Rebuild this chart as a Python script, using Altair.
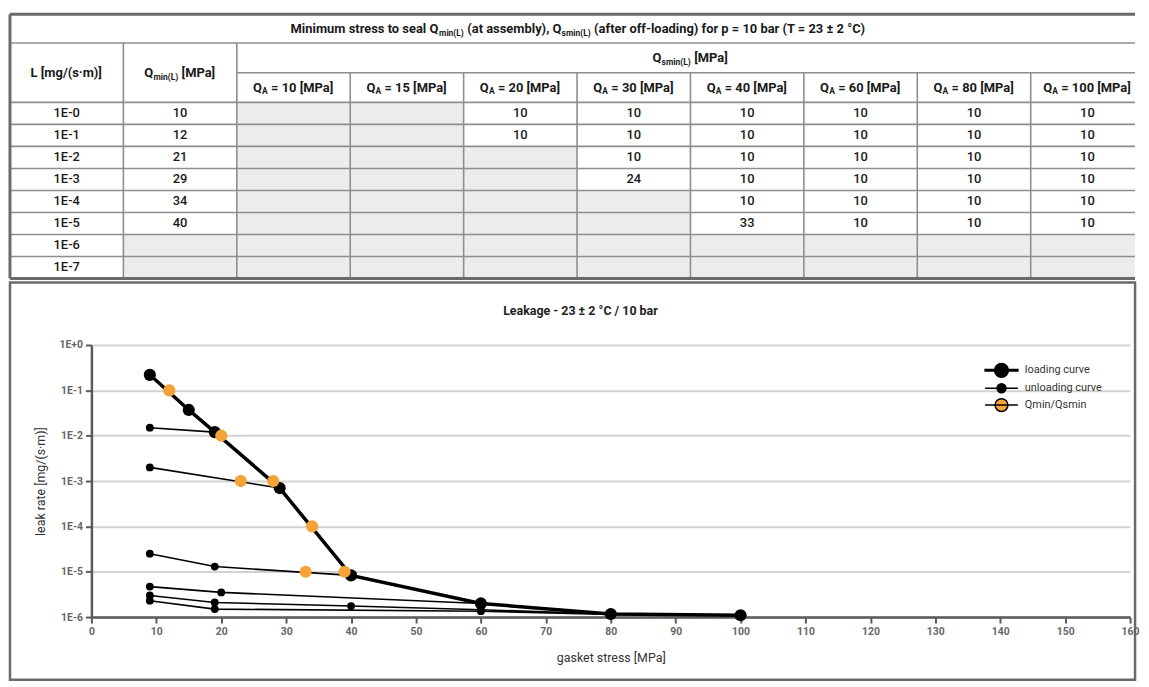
import altair as alt
import pandas as pd

# ---------------- table values ----------------
leak_rates = ["1E-0", "1E-1", "1E-2", "1E-3", "1E-4", "1E-5", "1E-6", "1E-7"]
qmin_values = [10, 12, 21, 29, 34, 40, None, None]
qa_levels = [10, 15, 20, 30, 40, 60, 80, 100]
qsmin_1e0 = [None, None, 10, 10, 10, 10, 10, 10]
qsmin_1e1 = [None, None, 10, 10, 10, 10, 10, 10]
qsmin_1e2 = [None, None, None, 10, 10, 10, 10, 10]
qsmin_1e3 = [None, None, None, 24, 10, 10, 10, 10]
qsmin_1e4 = [None, None, None, None, 10, 10, 10, 10]
qsmin_1e5 = [None, None, None, None, 33, 10, 10, 10]
qsmin_1e6 = [None, None, None, None, None, None, None, None]
qsmin_1e7 = [None, None, None, None, None, None, None, None]
qsmin_rows = [qsmin_1e0, qsmin_1e1, qsmin_1e2, qsmin_1e3, qsmin_1e4, qsmin_1e5, qsmin_1e6, qsmin_1e7]

table_title = [("Minimum stress to seal Q", "n"), ("min(L)", "s"), (" (at assembly), Q", "n"),
               ("smin(L)", "s"), (" (after off-loading) for p = 10 bar (T = 23 \u00b1 2 \u00b0C)", "n")]
head_L = [("L [mg/(s\u00b7m)]", "n")]
head_qmin = [("Q", "n"), ("min(L)", "s"), (" [MPa]", "n")]
head_qsmin = [("Q", "n"), ("smin(L)", "s"), (" [MPa]", "n")]

# ---------------- chart values ----------------
loading_stress = [9, 15, 19, 29, 40, 60, 80, 100]
loading_rate = [0.22, 0.037, 0.012, 7.0e-4, 8.3e-6, 2.0e-6, 1.17e-6, 1.1e-6]

unload_20_stress = [19, 9]
unload_20_rate = [0.012, 0.015]
unload_30_stress = [29, 9]
unload_30_rate = [7.0e-4, 2.0e-3]
unload_40_stress = [40, 19, 9]
unload_40_rate = [8.3e-6, 1.3e-5, 2.5e-5]
unload_60_stress = [60, 20, 9]
unload_60_rate = [2.0e-6, 3.5e-6, 4.7e-6]
unload_80_stress = [80, 60, 40, 19, 9]
unload_80_rate = [1.17e-6, 1.45e-6, 1.75e-6, 2.1e-6, 3.0e-6]
unload_100_stress = [100, 80, 60, 19, 9]
unload_100_rate = [1.1e-6, 1.15e-6, 1.35e-6, 1.5e-6, 2.3e-6]

qmin_stress = [12, 20, 23, 28, 34, 33, 39]
qmin_rate = [0.1, 0.01, 1e-3, 1e-3, 1e-4, 1e-5, 1e-5]

legend_series = ["loading curve", "unloading curve", "Qmin/Qsmin"]
x_ticks = list(range(0, 161, 10))
y_ticks = [1, 1e-1, 1e-2, 1e-3, 1e-4, 1e-5, 1e-6]

# ---------------- layout constants ----------------
FONT = "Roboto"
W = 1133
TABLE_H = 266
PANEL_H = 400
XMAX = 9.92            # visible table columns (last one cut)
PXU = W / XMAX         # px per column unit
MAIN = 13
SUB = 8.5
GRID_C = "#8e8e8e"
BORDER_C = "#6a6a6a"
SHADE = "#ececec"
ORANGE = "#F5A236"

# approximate Roboto advance widths (units / 2048)
ADV = {' ': 507, '(': 699, ')': 712, '+': 1135, ',': 393, '-': 553, '.': 527, '/': 825,
       '=': 1100, '[': 544, ']': 544, '\u00b1': 1080, '\u00b0': 782, '\u00b7': 530,
       'A': 1336, 'E': 1158, 'L': 1103, 'M': 1793, 'P': 1292, 'Q': 1408, 'T': 1222,
       'a': 1114, 'b': 1124, 'c': 1048, 'd': 1128, 'e': 1058, 'f': 693, 'g': 1123,
       'h': 1105, 'i': 486, 'k': 1013, 'l': 486, 'm': 1751, 'n': 1106, 'o': 1141,
       'p': 1122, 'r': 678, 's': 1030, 't': 654, 'u': 1104, 'v': 969, 'w': 1506,
       'x': 994, 'y': 947}


def text_w(s, size):
    return sum(ADV.get(c, 1150) for c in s) / 2048.0 * size * 1.03


def segments(parts, cx, cy):
    sizes = [MAIN if k == "n" else SUB for _, k in parts]
    widths = [text_w(t, s) for (t, _), s in zip(parts, sizes)]
    start = cx - sum(widths) / 2.0 / PXU
    rows, cum = [], 0.0
    for (t, k), w, s in zip(parts, widths, sizes):
        lead = len(t) - len(t.lstrip(" "))
        x = start + (cum + text_w(" " * lead, s)) / PXU
        rows.append({"x": x, "y": cy, "t": t.strip(" "), "k": k})
        cum += w
    return rows


# ---------------- table frames ----------------
seg_rows = []
seg_rows += segments(table_title, 5.0, 0.65)
seg_rows += segments(head_L, 0.5, 2.65)
seg_rows += segments(head_qmin, 1.5, 2.65)
seg_rows += segments(head_qsmin, 6.0, 1.975)
for j, qa in enumerate(qa_levels):
    seg_rows += segments([("Q", "n"), ("A", "s"), (" = %d [MPa]" % qa, "n")], 2.5 + j, 3.325)
seg_df = pd.DataFrame(seg_rows)

cell_rows, shade_rows = [], []
for i, lr in enumerate(leak_rates):
    values = [lr, qmin_values[i]] + qsmin_rows[i]
    for c, v in enumerate(values):
        if v is None:
            shade_rows.append({"x": c, "x2": c + 1, "y": 4 + i, "y2": 5 + i})
        else:
            cell_rows.append({"x": c + 0.5, "y": 4.5 + i, "t": str(v)})
cell_df = pd.DataFrame(cell_rows)
shade_df = pd.DataFrame(shade_rows)

hlines = [{"y": 1.3, "x": 0, "x2": XMAX}, {"y": 2.65, "x": 2, "x2": XMAX}]
hlines += [{"y": 4 + i, "x": 0, "x2": XMAX} for i in range(8)]
vlines = [{"x": 1, "y": 1.3, "y2": 12}, {"x": 2, "y": 1.3, "y2": 12}]
vlines += [{"x": c, "y": 2.65, "y2": 12} for c in range(3, 10)]
hborder = [{"y": 0, "x": 0, "x2": XMAX}, {"y": 12, "x": 0, "x2": XMAX}]
vborder = [{"x": 0, "y": 0, "y2": 12}]

tx = alt.Scale(domain=[0, XMAX], nice=False, zero=False)
ty = alt.Scale(domain=[0, 12], nice=False, zero=False, reverse=True)


def TX(f="x"):
    return alt.X(f + ":Q", scale=tx, axis=None)


def TY(f="y"):
    return alt.Y(f + ":Q", scale=ty, axis=None)


shade_layer = alt.Chart(shade_df).mark_rect(color=SHADE, clip=True).encode(
    x=TX(), x2="x2:Q", y=TY(), y2="y2:Q")
hline_layer = alt.Chart(pd.DataFrame(hlines)).mark_rule(color=GRID_C, strokeWidth=1.6, clip=True).encode(
    x=TX(), x2="x2:Q", y=TY())
vline_layer = alt.Chart(pd.DataFrame(vlines)).mark_rule(color=GRID_C, strokeWidth=1.6, clip=True).encode(
    x=TX(), y=TY(), y2="y2:Q")
hborder_layer = alt.Chart(pd.DataFrame(hborder)).mark_rule(color=BORDER_C, strokeWidth=3).encode(
    x=TX(), x2="x2:Q", y=TY())
vborder_layer = alt.Chart(pd.DataFrame(vborder)).mark_rule(color=BORDER_C, strokeWidth=3).encode(
    x=TX(), y=TY(), y2="y2:Q")
cell_layer = alt.Chart(cell_df).mark_text(font=FONT, fontSize=13, fontWeight=500, color="#1a1a1a",
                                          baseline="middle", align="center").encode(
    x=TX(), y=TY(), text="t:N")
main_layer = alt.Chart(seg_df[seg_df.k == "n"]).mark_text(
    font=FONT, fontSize=MAIN, fontWeight="bold", color="#1a1a1a", baseline="middle", align="left").encode(
    x=TX(), y=TY(), text="t:N")
sub_layer = alt.Chart(seg_df[seg_df.k == "s"]).mark_text(
    font=FONT, fontSize=SUB, fontWeight="bold", color="#1a1a1a", baseline="middle", align="left", dy=4).encode(
    x=TX(), y=TY(), text="t:N")

table = alt.layer(shade_layer, hline_layer, vline_layer, hborder_layer, vborder_layer,
                  cell_layer, main_layer, sub_layer).properties(
    width=W, height=TABLE_H, view=alt.ViewBackground(stroke="transparent"))

# ---------------- chart frames ----------------
loading_df = pd.DataFrame({"stress": loading_stress, "rate": loading_rate,
                           "seq": list(range(len(loading_stress)))})
curves = [("QA=20", unload_20_stress, unload_20_rate), ("QA=30", unload_30_stress, unload_30_rate),
          ("QA=40", unload_40_stress, unload_40_rate), ("QA=60", unload_60_stress, unload_60_rate),
          ("QA=80", unload_80_stress, unload_80_rate), ("QA=100", unload_100_stress, unload_100_rate)]
unload_df = pd.DataFrame([{"curve": n, "seq": i, "stress": s, "rate": r}
                          for n, xs_, ys_ in curves for i, (s, r) in enumerate(zip(xs_, ys_))])
qmin_df = pd.DataFrame({"stress": qmin_stress, "rate": qmin_rate})
legend_df = pd.DataFrame({"series": legend_series})

PLOT_X0, PLOT_X1 = 82, 1128
PLOT_Y0, PLOT_Y1 = 63, 337

xs = alt.Scale(domain=[0, 160], range=[PLOT_X0, PLOT_X1], nice=False, zero=False)
ys = alt.Scale(type="log", domain=[1e-6, 1], range=[PLOT_Y1, PLOT_Y0], nice=False)

x_axis = alt.Axis(values=x_ticks, offset=-(PANEL_H - PLOT_Y1), grid=False, labelFlush=False,
                  domainColor="#5a5a5a", domainWidth=2.5, tickColor="#5a5a5a", tickWidth=2, tickSize=6,
                  labelColor="#666", labelFontSize=10.5, labelFontWeight="bold", labelPadding=4,
                  titleFontSize=12.5, titleFontWeight="normal", titleColor="#333", titlePadding=14)
y_axis = alt.Axis(values=y_ticks, offset=-PLOT_X0, grid=True, gridColor="#d2d2d2", gridWidth=2,
                  labelExpr="'1E' + (datum.value >= 1 ? '+0' : round(log(datum.value) / LN10))",
                  domainColor="#5a5a5a", domainWidth=2.5, tickColor="#5a5a5a", tickWidth=2, tickSize=6,
                  labelColor="#666", labelFontSize=10.5, labelFontWeight="bold", labelPadding=3,
                  titleFontSize=12.5, titleFontWeight="normal", titleColor="#333", titlePadding=12)


def CX():
    return alt.X("stress:Q", scale=xs, axis=x_axis, title="gasket stress [MPa]")


def CY():
    return alt.Y("rate:Q", scale=ys, axis=y_axis, title="leak rate [mg/(s\u00b7m)]")


unload_lines = alt.Chart(unload_df).mark_line(color="black", strokeWidth=1.6).encode(
    x=CX(), y=CY(), detail="curve:N", order="seq:Q")
unload_pts = alt.Chart(unload_df).mark_circle(color="black", size=62, opacity=1).encode(x=CX(), y=CY())
load_line = alt.Chart(loading_df).mark_line(color="black", strokeWidth=3.5).encode(
    x=CX(), y=CY(), order="seq:Q")
load_pts = alt.Chart(loading_df).mark_circle(color="black", size=150, opacity=1).encode(x=CX(), y=CY())
qmin_pts = alt.Chart(qmin_df).mark_circle(color=ORANGE, size=150, opacity=1).encode(x=CX(), y=CY())

# legend symbols: a line through a dot (path units: 1 = sqrt(symbolSize)/2 px)
legend_paths = [
    "M-2.5,0H2.5M-2.5,-0.12H2.5V0.12H-2.5ZM1.06,0A1.06,1.06,0,1,1,-1.06,0A1.06,1.06,0,1,1,1.06,0Z",
    "M-2.5,0H2.5M0.68,0A0.68,0.68,0,1,1,-0.68,0A0.68,0.68,0,1,1,0.68,0Z",
    "M-2.5,0H2.5M0.98,0A0.98,0.98,0,1,1,-0.98,0A0.98,0.98,0,1,1,0.98,0Z",
]
leg = alt.Legend(orient="none", legendX=991, legendY=351, title=None, symbolSize=174,
                 symbolStrokeColor="black", symbolStrokeWidth=1.5, labelFont=FONT,
                 labelFontSize=11, labelColor="#333", labelOffset=16, rowPadding=0)
legend_layer = alt.Chart(legend_df).transform_filter("false").mark_point(filled=True, opacity=1).encode(
    color=alt.Color("series:N", scale=alt.Scale(domain=legend_series, range=["black", "black", ORANGE]),
                    legend=leg),
    shape=alt.Shape("series:N", scale=alt.Scale(domain=legend_series, range=legend_paths), legend=leg))

panel = alt.layer(unload_lines, unload_pts, load_line, load_pts, qmin_pts, legend_layer).properties(
    width=W, height=PANEL_H,
    title=alt.Title("Leakage - 23 \u00b1 2 \u00b0C / 10 bar", offset=-35, fontSize=12.5, font=FONT,
                    fontWeight="bold", color="#222", anchor="middle", dx=8),
    view=alt.ViewBackground(stroke=BORDER_C, strokeWidth=2.5))

chart = alt.vconcat(table, panel, spacing=0).properties(
    padding={"top": 2, "left": 0, "right": 0, "bottom": 0}
).configure(font=FONT)

chart.save("out.html", embed_options={"renderer": "svg", "actions": False})
